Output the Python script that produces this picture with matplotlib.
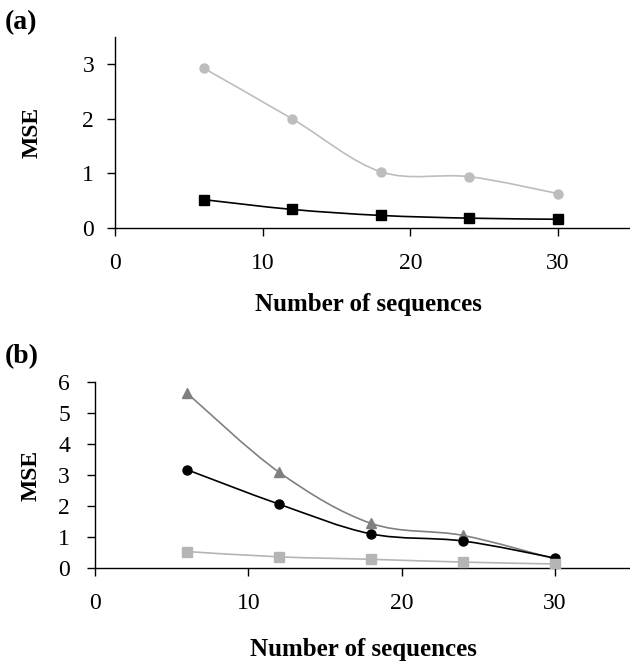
import matplotlib
matplotlib.use('Agg')
import matplotlib.pyplot as plt
from matplotlib.path import Path
from matplotlib.patches import PathPatch

# Values
sequences = [6, 12, 18, 24, 30]

# Panel (a)
a_grey_circles = [2.93, 2.0, 1.03, 0.94, 0.63]
a_black_squares = [0.52, 0.34, 0.23, 0.18, 0.16]

# Panel (b)
b_grey_triangles = [5.64, 3.09, 1.44, 1.05, 0.29]
b_black_circles = [3.17, 2.06, 1.1, 0.87, 0.32]
b_light_squares = [0.53, 0.36, 0.28, 0.19, 0.13]

x_ticks = [0, 10, 20, 30]
a_y_ticks = [0, 1, 2, 3]
b_y_ticks = [0, 1, 2, 3, 4, 5, 6]

# Times-like font
plt.rcParams['font.family'] = 'serif'
plt.rcParams['font.serif'] = ['Liberation Serif', 'DejaVu Serif']


# Smoothed line (like a spreadsheet "smoothed line") drawn as a bezier path
def smoothLine(ax, xs, ys, color, lw):
    verts = [(xs[0], ys[0])]
    codes = [Path.MOVETO]
    n = len(xs)
    for i in range(n - 1):
        x0, y0 = (xs[i - 1], ys[i - 1]) if i > 0 else (xs[i], ys[i])
        x1, y1 = xs[i], ys[i]
        x2, y2 = xs[i + 1], ys[i + 1]
        x3, y3 = (xs[i + 2], ys[i + 2]) if i + 2 < n else (x2, y2)
        c1 = (x1 + (x2 - x0) / 6.0, y1 + (y2 - y0) / 6.0)
        c2 = (x2 - (x3 - x1) / 6.0, y2 - (y3 - y1) / 6.0)
        verts += [c1, c2, (x2, y2)]
        codes += [Path.CURVE4, Path.CURVE4, Path.CURVE4]
    patch = PathPatch(Path(verts, codes), facecolor='none', edgecolor=color,
                      lw=lw, zorder=2)
    ax.add_patch(patch)


def series(ax, ys, color, marker, ms):
    smoothLine(ax, sequences, ys, color, 1.2)
    ax.plot(sequences, ys, linestyle='none', marker=marker, ms=ms,
            color=color, zorder=3)


def styleAxes(ax, ymax, yticks, ypad):
    ax.set_xlim(0, 35)
    ax.set_ylim(0, ymax)
    ax.set_xticks(x_ticks)
    ax.set_yticks(yticks)
    ax.spines['top'].set_visible(False)
    ax.spines['right'].set_visible(False)
    for s in ['left', 'bottom']:
        ax.spines[s].set_linewidth(1.0)
    ax.tick_params(axis='x', direction='out', length=6, width=1.0,
                   labelsize=17, pad=12)
    ax.tick_params(axis='y', direction='out', length=6, width=1.0,
                   labelsize=17, pad=ypad)
    ax.set_ylabel('MSE', fontsize=17, fontweight='bold')
    ax.set_xlabel('Number of sequences', fontsize=18, fontweight='bold')


fig = plt.figure(figsize=(6.3, 6.62), dpi=100)

# Panel (a)
ax1 = fig.add_axes([0.1825, 0.6556, 0.8206, 0.2885])
series(ax1, a_grey_circles, '#bdbdbd', 'o', 6.5)
series(ax1, a_black_squares, 'black', 's', 7)
styleAxes(ax1, 3.5, a_y_ticks, 9)
ax1.yaxis.set_label_coords(-0.14, 0.5)
ax1.xaxis.set_label_coords(0.49, -0.34)
fig.text(0.008, 0.985, '(a)', fontsize=20, fontweight='bold', va='top')

# Panel (b)
ax2 = fig.add_axes([0.1508, 0.142, 0.852, 0.281])
series(ax2, b_grey_triangles, '#808080', '^', 7.5)
series(ax2, b_black_circles, 'black', 'o', 6.5)
series(ax2, b_light_squares, '#b5b5b5', 's', 6.5)
styleAxes(ax2, 6, b_y_ticks, 12)
ax2.yaxis.set_label_coords(-0.10, 0.5)
ax2.xaxis.set_label_coords(0.5, -0.375)
fig.text(0.008, 0.48, '(b)', fontsize=20, fontweight='bold', va='top')

fig.savefig('out.png', dpi=100)
